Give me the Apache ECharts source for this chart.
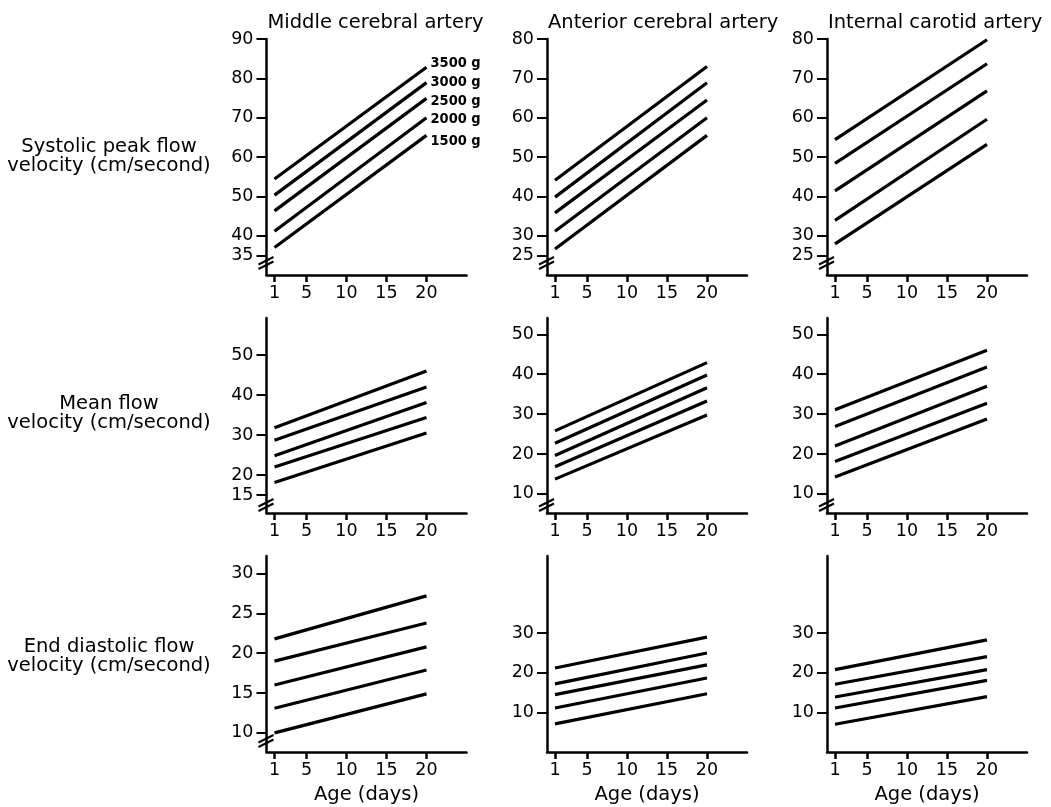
<!DOCTYPE html>
<html>
<head>
<meta charset="utf-8">
<script src="https://cdn.jsdelivr.net/npm/echarts@6/dist/echarts.min.js"></script>
<style>
html,body{margin:0;padding:0;background:#fff;}
#c{width:1051px;height:807px;}
</style>
</head>
<body>
<div id="c"></div>
<script>
// ---------- data ----------
const days = [1, 20];
const weights = ['3500 g', '3000 g', '2500 g', '2000 g', '1500 g'];
const xTicks = [1, 5, 10, 15, 20];
const columnTitles = ['Middle cerebral artery', 'Anterior cerebral artery', 'Internal carotid artery'];
const rowTitles = ['Systolic peak flow\nvelocity (cm/second)', 'Mean flow\nvelocity (cm/second)', 'End diastolic flow\nvelocity (cm/second)'];
const xTitle = 'Age (days)';

// values at day 1 and day 20, rows = 3500, 3000, 2500, 2000, 1500 g
const mcaSystolic = [[54.4, 82.8], [50.3, 78.9], [46.3, 74.9], [41.1, 70.0], [37.0, 65.5]];
const acaSystolic = [[44.1, 73.0], [39.8, 68.9], [35.8, 64.5], [31.1, 60.0], [26.6, 55.5]];
const icaSystolic = [[54.4, 79.8], [48.4, 73.7], [41.4, 66.8], [33.9, 59.6], [27.9, 53.2]];
const mcaMean = [[31.8, 46.0], [28.7, 42.0], [24.8, 38.1], [22.0, 34.4], [18.1, 30.5]];
const acaMean = [[25.8, 42.9], [22.7, 39.8], [19.6, 36.6], [16.8, 33.3], [13.7, 29.8]];
const icaMean = [[31.1, 46.0], [26.9, 41.8], [22.0, 37.0], [18.1, 32.7], [14.2, 28.8]];
const mcaDiastolic = [[21.8, 27.2], [19.0, 23.8], [16.0, 20.8], [13.1, 17.9], [10.0, 14.9]];
const acaDiastolic = [[21.2, 29.0], [17.2, 25.0], [14.5, 22.0], [11.1, 18.7], [7.1, 14.7]];
const icaDiastolic = [[20.8, 28.3], [17.1, 24.1], [13.9, 20.8], [11.1, 18.1], [7.0, 14.0]];

// y tick labels per panel
const mcaSystolicTicks = [35, 40, 50, 60, 70, 80, 90];
const acaSystolicTicks = [25, 30, 40, 50, 60, 70, 80];
const icaSystolicTicks = [25, 30, 40, 50, 60, 70, 80];
const mcaMeanTicks = [15, 20, 30, 40, 50];
const acaMeanTicks = [10, 20, 30, 40, 50];
const icaMeanTicks = [10, 20, 30, 40, 50];
const mcaDiastolicTicks = [10, 15, 20, 25, 30];
const acaDiastolicTicks = [10, 20, 30];
const icaDiastolicTicks = [10, 20, 30];

// y ranges per panel
const yRanges = [[30, 90], [20, 80], [20, 80], [10.5, 59.25], [5.2, 54.1], [5.2, 54.1], [7.6, 32.2], [0, 49.5], [0, 49.5]];

const panelData = [mcaSystolic, acaSystolic, icaSystolic, mcaMean, acaMean, icaMean, mcaDiastolic, acaDiastolic, icaDiastolic];
const panelTicks = [mcaSystolicTicks, acaSystolicTicks, icaSystolicTicks, mcaMeanTicks, acaMeanTicks, icaMeanTicks, mcaDiastolicTicks, acaDiastolicTicks, icaDiastolicTicks];
const hasBreak = [true, true, true, true, true, true, true, false, false];

// ---------- layout ----------
const FONT = "'DejaVu Sans', sans-serif";
const colLeft = [266.5, 547, 827];
const rowTop = [39, 318, 556];
const rowHeight = [236, 195, 196];
const gridWidth = 200;
const breakOffset = [11, 7, 10];
const labelOffsets = [[-4, -4], [-4, 0], [-4, 3], [-4, 2], [-4, 6]];

const grids = [], xAxes = [], yAxes = [], series = [];
for (let i = 0; i < 9; i++) {
  const r = Math.floor(i / 3), c = i % 3;
  grids.push({ left: colLeft[c], top: rowTop[r], width: gridWidth, height: rowHeight[r], containLabel: false });
  xAxes.push({
    type: 'value', gridIndex: i, min: 0, max: 25,
    name: r === 2 ? xTitle : '', nameLocation: 'middle', nameGap: 33,
    nameTextStyle: { fontFamily: FONT, fontSize: 19.5, color: '#000' },
    axisLine: { show: true, lineStyle: { color: '#000', width: 2.5 } },
    axisTick: { show: true, customValues: xTicks, length: 7, lineStyle: { color: '#000', width: 2.5 } },
    axisLabel: { show: true, customValues: xTicks, margin: 9, fontFamily: FONT, fontSize: 17.5, color: '#000' },
    splitLine: { show: false }
  });
  yAxes.push({
    type: 'value', gridIndex: i, min: yRanges[i][0], max: yRanges[i][1],
    axisLine: { show: true, lineStyle: { color: '#000', width: 2.5 } },
    axisTick: { show: true, customValues: panelTicks[i], length: 10, lineStyle: { color: '#000', width: 2 } },
    axisLabel: { show: true, customValues: panelTicks[i], margin: 13, fontFamily: FONT, fontSize: 17.5, color: '#000' },
    splitLine: { show: false }
  });
  panelData[i].forEach((vals, k) => {
    const s = {
      type: 'line', xAxisIndex: i, yAxisIndex: i, silent: true,
      showSymbol: false, symbol: 'none',
      data: days.map((d, j) => [d, vals[j]]),
      lineStyle: { color: '#000', width: 3.2, cap: 'butt' }
    };
    if (i === 0) {
      s.name = weights[k];
      s.endLabel = {
        show: true, formatter: weights[k], offset: labelOffsets[k],
        fontFamily: "'DejaVu Sans Condensed', 'DejaVu Sans', sans-serif", fontWeight: 'bold', fontSize: 14.5, color: '#000'
      };
    }
    series.push(s);
  });
}

const titles = columnTitles.map((t, c) => ({
  text: t, left: colLeft[c] - 4, top: 8,
  textStyle: { fontFamily: FONT, fontSize: 19.5, fontWeight: 'normal', color: '#000' }
}));

const chart = echarts.init(document.getElementById('c'), null, { renderer: 'canvas' });
chart.setOption({
  animation: false,
  backgroundColor: '#fff',
  title: titles,
  grid: grids, xAxis: xAxes, yAxis: yAxes, series: series
});

// row titles and axis-break marks
const graphics = [];
const rowCenters = [156, 413.5, 656];
rowTitles.forEach((t, r) => {
  graphics.push({
    type: 'text', silent: true,
    style: { text: t, x: 109, y: rowCenters[r], font: "19.5px " + FONT, fill: '#000', textAlign: 'center', textVerticalAlign: 'middle', lineHeight: 19 }
  });
});
for (let i = 0; i < 9; i++) {
  if (!hasBreak[i]) continue;
  const r = Math.floor(i / 3);
  const p = chart.convertToPixel({ gridIndex: i }, [0, yRanges[i][0]]);
  const cx = p[0], cy = p[1] - breakOffset[r];
  graphics.push({
    type: 'polygon', silent: true,
    shape: { points: [[cx - 6, cy + 4], [cx + 6, cy - 2], [cx + 6, cy - 6], [cx - 6, cy]] },
    style: { fill: '#fff' }
  });
  graphics.push({ type: 'line', silent: true, shape: { x1: cx - 8, y1: cy + 5, x2: cx + 7, y2: cy - 2.5 }, style: { stroke: '#000', lineWidth: 2 } });
  graphics.push({ type: 'line', silent: true, shape: { x1: cx - 8, y1: cy + 0.5, x2: cx + 7, y2: cy - 7 }, style: { stroke: '#000', lineWidth: 2 } });
}
chart.setOption({ graphic: graphics });
</script>
</body>
</html>
